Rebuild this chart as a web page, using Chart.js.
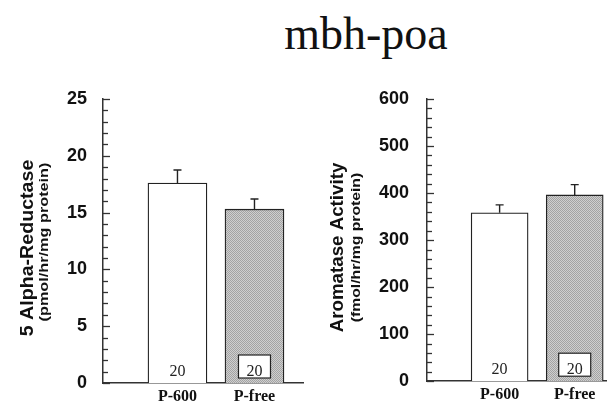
<!DOCTYPE html>
<html lang="en">
<head>
<meta charset="UTF-8">
<title>mbh-poa</title>
<script src="https://cdn.jsdelivr.net/npm/chart.js"></script>
<style>
  body { margin: 0; background: #fff; }
  #wrap { position: relative; width: 607px; height: 410px; overflow: hidden; }
  #title { position: absolute; left: 166px; top: 11px; width: 400px; text-align: center;
           font: 46px "Liberation Serif", "Times New Roman", serif; line-height: 46px; color: #111; }
  canvas { position: absolute; top: 0; }
</style>
</head>
<body>
<div id="wrap">
  <div id="title">mbh-poa</div>
  <canvas id="reductaseChart" width="310" height="410" style="left:0"></canvas>
  <canvas id="aromataseChart" width="297" height="410" style="left:310px"></canvas>
</div>

<script>
// groups and sample sizes
const groups = ['P-600', 'P-free'];
const groupN = ['20', '20'];

// 5 alpha-reductase (pmol/hr/mg protein), mean and SEM
const reductaseMean = [17.6, 15.3];
const reductaseSem = [1.15, 0.9];

// aromatase activity (fmol/hr/mg protein), mean and SEM
const aromataseMean = [358, 396];
const aromataseSem = [17, 22];

// stippled grey fill for the P-free bars
function stipple() {
    const c = document.createElement('canvas');
    c.width = 2; c.height = 2;
    const g = c.getContext('2d');
    g.fillStyle = '#cfcfcf'; g.fillRect(0, 0, 2, 2);
    g.fillStyle = '#a3a3a3'; g.fillRect(0, 0, 1, 1); g.fillRect(1, 1, 1, 1);
    return g.createPattern(c, 'repeat');
}

// draws inward ticks, error bars, n labels and the two-line y title
const extras = {
    id: 'extras',
    afterDatasetsDraw(chart, args, opts) {
        const ctx = chart.ctx;
        const y = chart.scales.y;
        const left = chart.chartArea.left;
        ctx.save();

        // inward ticks
        ctx.strokeStyle = '#333';
        ctx.lineWidth = 1.3;
        for (let v = y.min; v <= y.max + 1e-9; v += opts.minorStep) {
            const py = Math.round(y.getPixelForValue(v)) + 0.5;
            const len = Math.abs(v % opts.majorStep) < 1e-9 ? 7 : 5;
            ctx.beginPath();
            ctx.moveTo(left, py);
            ctx.lineTo(left + len, py);
            ctx.stroke();
        }

        // error bars (upper only)
        const meta = chart.getDatasetMeta(0);
        ctx.strokeStyle = '#222';
        ctx.lineWidth = 1.4;
        meta.data.forEach((bar, i) => {
            const v = chart.data.datasets[0].data[i].y;
            const top = y.getPixelForValue(v + opts.sem[i]);
            ctx.beginPath();
            ctx.moveTo(bar.x, bar.y);
            ctx.lineTo(bar.x, top);
            ctx.moveTo(bar.x - 4, top);
            ctx.lineTo(bar.x + 4, top);
            ctx.stroke();
        });

        // n labels
        ctx.font = '16px "Liberation Serif", serif';
        ctx.textAlign = 'center';
        ctx.textBaseline = 'middle';
        const base = y.getPixelForValue(0);
        meta.data.forEach((bar, i) => {
            const cy = base - 11;
            if (i === 1) {
                ctx.fillStyle = '#fff';
                ctx.fillRect(bar.x - 16, base - 28, 32, 23);
                ctx.strokeStyle = '#222';
                ctx.lineWidth = 1.2;
                ctx.strokeRect(bar.x - 16, base - 28, 32, 23);
            }
            ctx.fillStyle = '#222';
            ctx.fillText(groupN[i], bar.x, cy);
        });

        // y axis title, two lines
        ctx.fillStyle = '#111';
        opts.titles.forEach(t => {
            ctx.save();
            ctx.translate(t.x, t.y);
            ctx.rotate(-Math.PI / 2);
            ctx.scale(t.stretch, 1);
            ctx.font = t.font;
            ctx.fillText(t.text, 0, 0);
            ctx.restore();
        });
        ctx.restore();
    }
};

function makePanel(id, means, sem, yMax, major, minor, xMax, barWidth, axisWidth, padRight, tickPad, titles) {
    const fills = ['#ffffff', stipple()];
    return new Chart(document.getElementById(id), {
        type: 'bar',
        data: {
            datasets: [{
                data: means.map((m, i) => ({ x: i + 1, y: m })),
                backgroundColor: fills,
                borderColor: '#222',
                borderWidth: 1.3,
                barThickness: barWidth
            }]
        },
        options: {
            responsive: false,
            animation: false,
            events: [],
            layout: { padding: { top: 99, right: padRight, left: 0, bottom: 0 } },
            plugins: {
                legend: { display: false },
                tooltip: { enabled: false },
                extras: { sem: sem, majorStep: major, minorStep: minor, titles: titles }
            },
            scales: {
                x: {
                    type: 'linear',
                    offset: false,
                    min: 0.033,
                    max: xMax,
                    grid: { display: false, drawTicks: false, offset: false },
                    border: { display: true, color: '#333', width: 1.5 },
                    afterBuildTicks: s => { s.ticks = groups.map((g, i) => ({ value: i + 1 })); },
                    afterFit: s => { s.height = 27; },
                    ticks: {
                        callback: v => groups[v - 1],
                        padding: 4,
                        color: '#111',
                        maxRotation: 0,
                        font: { family: '"Liberation Serif", serif', size: 16, weight: 'bold' }
                    }
                },
                y: {
                    min: 0,
                    max: yMax,
                    grid: { display: false, drawTicks: false },
                    border: { display: true, color: '#333', width: 1.5 },
                    afterFit: s => { s.width = axisWidth; },
                    ticks: {
                        stepSize: major,
                        padding: tickPad,
                        color: '#111',
                        font: { family: '"Liberation Sans", Arial, sans-serif', size: 18, weight: 'bold' }
                    }
                }
            }
        },
        plugins: [extras]
    });
}

makePanel('reductaseChart', reductaseMean, reductaseSem, 25, 5, 1, 2.63, 59, 103, 7, 16, [
    { text: '5 Alpha-Reductase', x: 28.5, y: 248, stretch: 1.09, font: 'bold 18px "Liberation Sans", Arial, sans-serif' },
    { text: '(pmol/hr/mg protein)', x: 44, y: 242, stretch: 1.25, font: 'bold 13px "Liberation Sans", Arial, sans-serif' }
]);

makePanel('aromataseChart', aromataseMean, aromataseSem, 600, 100, 20, 2.43, 57, 117, 0, 18, [
    { text: 'Aromatase Activity', x: 28.5, y: 247.5, stretch: 1.04, font: 'bold 18px "Liberation Sans", Arial, sans-serif' },
    { text: '(fmol/hr/mg protein)', x: 46.5, y: 247.5, stretch: 1.21, font: 'bold 13px "Liberation Sans", Arial, sans-serif' }
]);
</script>
</body>
</html>
